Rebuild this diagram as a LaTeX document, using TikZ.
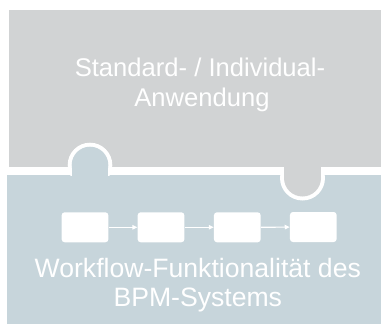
\documentclass[tikz,border=0pt]{standalone}
\usepackage{fontspec}
\setmainfont{Liberation Sans}
\usetikzlibrary{arrows.meta}
\definecolor{pgray}{RGB}{209,211,212}
\definecolor{pblue}{RGB}{199,213,219}
\begin{document}
\begin{tikzpicture}[x=1pt,y=-1pt,
  lbl/.style={text=white,font=\fontsize{25.6}{30}\selectfont,anchor=base,inner sep=0pt},
  lblb/.style={text=white,font=\fontsize{26.6}{30}\selectfont,anchor=base,inner sep=0pt},
  flowbox/.style={fill=white,draw=none,rounded corners=3pt,minimum width=46.7pt,minimum height=30pt,inner sep=0pt},
  flowarrow/.style={draw=white,line width=1.2pt,-{Triangle[length=5pt,width=4.5pt]}}]
\useasboundingbox (0,0) rectangle (381,324);
\fill[white] (0,0) rectangle (381,324);
% main areas
\fill[pgray] (9,9.7) rectangle (381,167.3);
\fill[pblue] (7,175) rectangle (381,324);
% left bump (blue into gray)
\begin{scope}
  \clip (0,0) rectangle (381,175);
  \fill[white] (90,165) circle[radius=22.3];
\end{scope}
\fill[pblue] (90,165) circle[radius=18.3];
\fill[pblue] (71.7,165) rectangle (108.3,176);
% right bump (gray into blue)
\begin{scope}
  \clip (0,167.3) rectangle (381,324);
  \fill[white] (302.5,178) circle[radius=22.5];
\end{scope}
\fill[pgray] (302.5,178) circle[radius=18.5];
\fill[pgray] (284,166) rectangle (321,178);
% texts
\node[lbl] (t1) at (200,76) {Standard- / Individual-};
\node[lbl] (t2) at (202,106) {Anwendung};
\node[lblb] (b1) at (197.8,277) {Workflow-Funktionalität des};
\node[lblb] (b2) at (197.8,306.5) {BPM-Systems};
% flow boxes
\node[flowbox] (f1) at (85,227.3) {};
\node[flowbox] (f2) at (161,227.3) {};
\node[flowbox] (f3) at (237.3,227.3) {};
\node[flowbox] (f4) at (313.3,227) {};
\draw[flowarrow] (f1) -- (f2);
\draw[flowarrow] (f2) -- (f3);
\draw[flowarrow] (f3) -- (f4);
\end{tikzpicture}
\end{document}
